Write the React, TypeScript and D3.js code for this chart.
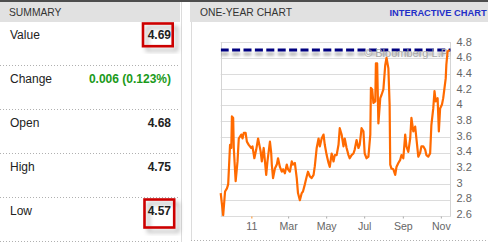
import React from "react";
import * as d3 from "d3";

// ---------- data ----------
const summaryLabels = ["Value", "Change", "Open", "High", "Low"];
const summaryValues = ["4.69", "0.006 (0.123%)", "4.68", "4.75", "4.57"];
const highlightedRows = [0, 4];

const dates = [
  "2010-11-12","2010-11-14","2010-11-16","2010-11-19","2010-11-22","2010-11-24","2010-11-27","2010-11-29",
  "2010-11-30","2010-12-02","2010-12-03","2010-12-06","2010-12-09","2010-12-11","2010-12-15","2010-12-17",
  "2010-12-19","2010-12-22","2010-12-24","2010-12-27","2010-12-31","2011-01-02","2011-01-05","2011-01-08",
  "2011-01-11","2011-01-15","2011-01-17","2011-01-20","2011-01-22","2011-01-24","2011-01-26","2011-01-30",
  "2011-02-01","2011-02-02","2011-02-04","2011-02-07","2011-02-10","2011-02-12","2011-02-15","2011-02-18",
  "2011-02-20","2011-02-23","2011-02-26","2011-02-28","2011-03-03","2011-03-06","2011-03-08","2011-03-11",
  "2011-03-14","2011-03-16","2011-03-19","2011-03-22","2011-03-24","2011-03-27","2011-03-30","2011-04-01",
  "2011-04-04","2011-04-07","2011-04-10","2011-04-12","2011-04-15","2011-04-18","2011-04-20","2011-04-23",
  "2011-04-26","2011-04-28","2011-05-01","2011-05-04","2011-05-06","2011-05-09","2011-05-12","2011-05-14",
  "2011-05-17","2011-05-20","2011-05-22","2011-05-25","2011-05-28","2011-05-30","2011-06-02","2011-06-05",
  "2011-06-07","2011-06-10","2011-06-13","2011-06-15","2011-06-18","2011-06-21","2011-06-23","2011-06-26",
  "2011-06-29","2011-07-01","2011-07-04","2011-07-07","2011-07-10","2011-07-11","2011-07-13","2011-07-15",
  "2011-07-18","2011-07-19","2011-07-21","2011-07-23","2011-07-26","2011-07-28","2011-07-31","2011-08-03",
  "2011-08-05","2011-08-08","2011-08-10","2011-08-11","2011-08-13","2011-08-16","2011-08-19","2011-08-21",
  "2011-08-24","2011-08-27","2011-08-29","2011-09-01","2011-09-04","2011-09-06","2011-09-09","2011-09-12",
  "2011-09-14","2011-09-17","2011-09-20","2011-09-22","2011-09-25","2011-09-28","2011-09-30","2011-10-03",
  "2011-10-06","2011-10-08","2011-10-11","2011-10-14","2011-10-16","2011-10-19","2011-10-21","2011-10-23",
  "2011-10-26","2011-10-28","2011-10-30","2011-11-02","2011-11-04","2011-11-08","2011-11-09","2011-11-11",
  "2011-11-14"
];
const values = [
  2.89,2.75,2.61,2.91,2.95,3.00,3.50,3.46,
  3.86,3.84,3.46,3.04,3.29,3.58,3.63,3.58,
  3.65,3.65,3.54,3.50,3.46,3.48,3.33,3.44,
  3.58,3.42,3.29,3.46,3.29,3.12,3.29,3.54,
  3.40,3.25,3.08,3.20,3.25,3.33,3.22,3.16,
  3.19,3.14,3.25,3.19,3.16,3.29,3.25,3.27,
  3.08,2.89,2.80,2.89,2.91,3.00,3.10,3.16,
  3.10,3.08,3.12,3.23,3.46,3.58,3.48,3.58,
  3.63,3.50,3.37,3.27,3.22,3.39,3.29,3.37,
  3.37,3.50,3.71,3.63,3.48,3.58,3.46,3.37,
  3.33,3.37,3.39,3.44,3.56,3.46,3.50,3.71,
  3.67,3.39,3.33,3.35,3.63,4.22,4.20,4.03,
  4.05,4.53,4.53,3.77,4.09,4.13,4.20,4.51,
  4.60,4.47,4.01,3.25,3.20,3.19,3.12,3.22,
  3.27,3.31,3.37,3.33,3.63,3.48,3.41,3.58,
  3.84,3.67,3.73,3.58,3.35,3.40,3.48,3.48,
  3.44,3.37,3.35,3.39,3.75,3.96,4.18,4.05,
  4.09,3.67,3.96,4.01,4.09,4.34,4.51,4.68,
  4.70
];
const refValue = 4.7;
const yTicks = [2.6, 2.8, 3.0, 3.2, 3.4, 3.6, 3.8, 4.0, 4.2, 4.4, 4.6, 4.8];
const xTickDates = ["2011-01-01","2011-03-01","2011-05-01","2011-07-01","2011-09-01","2011-11-01"];
const xTickLabels = ["11", "Mar", "May", "Jul", "Sep", "Nov"];
const domainStart = "2010-11-12";
const domainEnd = "2011-11-16";

const FONT = "'Liberation Sans', Arial, Helvetica, sans-serif";

export default function App() {
  const parse = d3.timeParse("%Y-%m-%d");
  const points = dates.map((d, i) => ({ date: parse(d) as Date, value: values[i] }));

  const plotLeft = 220.7, plotRight = 450.7, plotTop = 42, plotBottom = 216;
  const x = d3.scaleTime().domain([parse(domainStart) as Date, parse(domainEnd) as Date]).range([plotLeft, plotRight]);
  const y = d3.scaleLinear().domain([2.6, 4.8]).range([plotBottom, plotTop]);

  const line = d3.line<{ date: Date; value: number }>()
    .x(d => x(d.date))
    .y(d => y(d.value));

  const fmtY = (v: number) => (Math.abs(v - Math.round(v)) < 1e-9 ? String(Math.round(v)) : v.toFixed(1));

  const rowH = 44;
  const rowBase = 39;
  const refY = y(refValue);

  return (
    <svg width={488} height={246} style={{ position: "absolute", left: 0, top: 0, display: "block", background: "#fff" }}
      fontFamily={FONT}>
      <defs>
        <filter id="boxShadow" x="-30%" y="-30%" width="160%" height="160%">
          <feDropShadow dx="4" dy="4" stdDeviation="2" floodColor="#000" floodOpacity="0.28" />
        </filter>
        <filter id="lineShadow" filterUnits="userSpaceOnUse" x={plotLeft - 10} y={refY - 12} width={plotRight - plotLeft + 20} height={30}>
          <feDropShadow dx="0" dy="4" stdDeviation="1.5" floodColor="#000" floodOpacity="0.32" />
        </filter>
        <clipPath id="plotClip">
          <rect x={plotLeft} y={plotTop - 6} width={plotRight - plotLeft} height={plotBottom - plotTop + 6} />
        </clipPath>
      </defs>

      {/* top bar */}
      <rect x={0} y={0} width={488} height={2} fill="#4d4d4d" />

      {/* ---------- left summary panel ---------- */}
      <rect x={0} y={2} width={180} height={20} fill="#e1e1e1" />
      <text x={9} y={16} fontSize={10.3} fill="#333">SUMMARY</text>
      <line x1={181.5} y1={2} x2={181.5} y2={242} stroke="#dcdcdc" />

      {summaryLabels.map((lab, i) => {
        const base = rowBase + i * rowH;
        const isChange = lab === "Change";
        return (
          <g key={lab}>
            <text x={10} y={base} fontSize={12} fill="#222">{lab}</text>
            <text x={171} y={base} fontSize={12} textAnchor="end" fontWeight="bold"
              fill={isChange ? "#1a9a1a" : "#222"}>{summaryValues[i]}</text>
            <line x1={0} x2={180} y1={65.5 + i * rowH} y2={65.5 + i * rowH}
              stroke="#b0b0b0" strokeDasharray="1,2" />
          </g>
        );
      })}

      {highlightedRows.map((r, k) => {
        const base = rowBase + r * rowH;
        const top = base - 15.5;
        const h = k === 0 ? 22.7 : 28;
        return (
          <rect key={r} x={143 + k * 1.5} y={top} width={29.7} height={h}
            fill="none" stroke="#cc0000" strokeWidth={2.6} filter="url(#boxShadow)" />
        );
      })}

      {/* ---------- right chart panel ---------- */}
      <rect x={190} y={2} width={298} height={20} fill="#e1e1e1" />
      <text x={200} y={16} fontSize={10.3} fill="#333">ONE-YEAR CHART</text>
      <text x={389.5} y={16} fontSize={9.3} fontWeight="bold" fill="#1f2fc8">INTERACTIVE CHART</text>
      <line x1={191.5} y1={22} x2={191.5} y2={240} stroke="#dcdcdc" />
      <line x1={191} x2={488} y1={240.5} y2={240.5} stroke="#b0b0b0" strokeDasharray="1,2" />

      {/* grid */}
      {yTicks.map(t => (
        <line key={t} x1={plotLeft} x2={plotRight} y1={Math.round(y(t)) + 0.5} y2={Math.round(y(t)) + 0.5}
          stroke="#dcdcdc" />
      ))}
      <line x1={Math.round(plotLeft) + 0.5} x2={Math.round(plotLeft) + 0.5} y1={plotTop} y2={plotBottom + 0.5} stroke="#d4d4d4" />
      <line x1={Math.round(plotRight) - 0.5} x2={Math.round(plotRight) - 0.5} y1={plotTop} y2={plotBottom + 0.5} stroke="#d4d4d4" />

      {/* y labels */}
      {yTicks.map(t => (
        <text key={t} x={456.5} y={y(t) - 1.2 * (4.8 - t) / 0.2 * 0.15 + 3.8} fontSize={11} fill="#666">{fmtY(t)}</text>
      ))}

      {/* x ticks and labels */}
      {xTickDates.map((d, i) => {
        const px = x(parse(d) as Date);
        return (
          <g key={d}>
            <line x1={px} x2={px} y1={plotBottom + 0.5} y2={plotBottom + 2.5}
              stroke={i === 0 ? "#ff8c1a" : "#aaa"} strokeWidth={1} />
            <text x={px} y={230} fontSize={10.6} textAnchor="middle" fill="#666">{xTickLabels[i]}</text>
          </g>
        );
      })}

      {/* reference dashed line with shadow + watermark */}
      <g clipPath="url(#plotClip)">
        <path d={`M${plotLeft},${refY}H${plotRight}`}
          stroke="#000080" strokeWidth={3} strokeDasharray="8,3.4" fill="none" filter="url(#lineShadow)" />
        <text x={plotRight - 1} y={57} fontSize={11} textAnchor="end" fill="#a8a8a8">© Bloomberg L.P.</text>
      </g>

      {/* price line */}
      <path d={line(points) ?? ""} fill="none" stroke="#ff6a00" strokeWidth={2.2} strokeLinejoin="round" />
    </svg>
  );
}
